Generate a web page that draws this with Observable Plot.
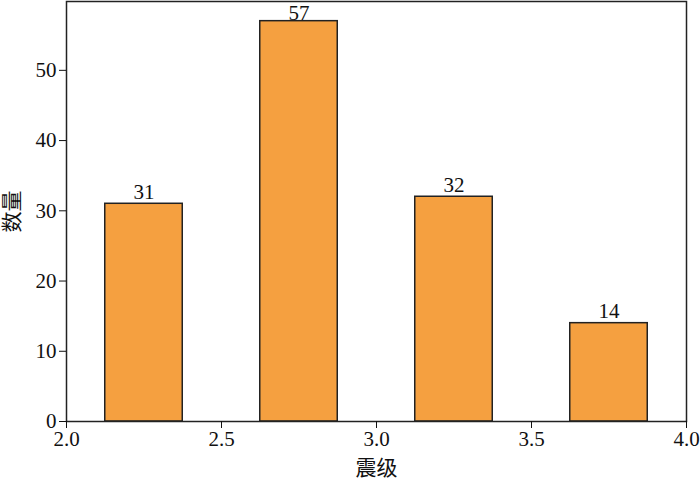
<!DOCTYPE html>
<html>
<head>
<meta charset="utf-8">
<script src="https://cdn.jsdelivr.net/npm/d3@7"></script>
<script src="https://cdn.jsdelivr.net/npm/@observablehq/plot@0.6"></script>
<style>
  html, body { margin: 0; padding: 0; background: #fff; }
</style>
</head>
<body>
<div id="chart"></div>
<script>
const binStart = [2.125, 2.625, 3.125, 3.625];
const binEnd = [2.375, 2.875, 3.375, 3.875];
const counts = [31, 57, 32, 14];
const xTicks = [2.0, 2.5, 3.0, 3.5, 4.0];
const yTicks = [0, 10, 20, 30, 40, 50];
const yMax = 59.8;

const data = counts.map((c, i) => ({x1: binStart[i], x2: binEnd[i], y: c}));

const chart = Plot.plot({
  width: 700,
  height: 482,
  marginLeft: 66,
  marginRight: 14,
  marginTop: 1,
  marginBottom: 61,
  style: {fontFamily: "'Liberation Serif', 'Noto Sans CJK SC', serif", fontSize: "21px", color: "#111", background: "#fff"},
  x: {domain: [2, 4]},
  y: {domain: [0, yMax]},
  marks: [
    Plot.rectY(data, {x1: "x1", x2: "x2", y: "y", fill: "#F5A040", stroke: "#222", strokeWidth: 1.5}),
    Plot.text(data, {x: d => (d.x1 + d.x2) / 2, y: d => Math.min(d.y + 0.7, yMax - 2.65), text: d => String(d.y),
      lineAnchor: "bottom", dy: 0, fontSize: 21, fill: "#111"}),
    Plot.frame({stroke: "#222", strokeWidth: 1.5}),
    Plot.axisX({ticks: xTicks, tickFormat: d => d.toFixed(1), tickSize: 7, tickPadding: 3, tickWidth: 1.5,
      label: "震级", labelAnchor: "center", labelArrow: "none", labelOffset: 53, fontSize: 21}),
    Plot.axisY({ticks: yTicks, tickFormat: d => String(d), tickSize: 7, tickPadding: 3, tickWidth: 1.5,
      label: "数量", labelAnchor: "center", labelArrow: "none", labelOffset: 62, fontSize: 21})
  ]
});
document.getElementById("chart").appendChild(chart);
</script>
</body>
</html>
